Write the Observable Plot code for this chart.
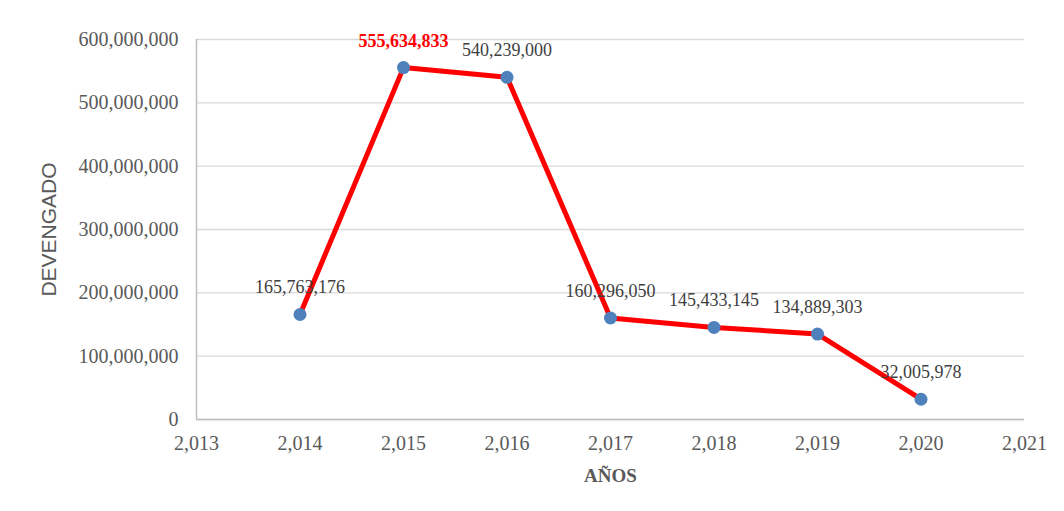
<!DOCTYPE html>
<html>
<head>
<meta charset="utf-8">
<script src="https://cdn.jsdelivr.net/npm/d3@7"></script>
<script src="https://cdn.jsdelivr.net/npm/@observablehq/plot@0.6"></script>
<style>
  html, body { margin: 0; padding: 0; background: #ffffff; }
</style>
</head>
<body>
<div id="chart"></div>
<script>
const years = [2014, 2015, 2016, 2017, 2018, 2019, 2020];
const values = [165763176, 555634833, 540239000, 160296050, 145433145, 134889303, 32005978];
const xTicks = [2013, 2014, 2015, 2016, 2017, 2018, 2019, 2020, 2021];
const yTicks = [0, 100000000, 200000000, 300000000, 400000000, 500000000, 600000000];
const highlightYear = 2015;
const yLabel = "DEVENGADO";
const xLabel = "AÑOS";

const data = years.map((year, i) => ({year, value: values[i]}));
const fmt = d3.format(",");

const chart = Plot.plot({
  width: 1064,
  height: 511,
  marginLeft: 196,
  marginRight: 40,
  marginTop: 39,
  marginBottom: 92,
  style: {fontFamily: "'Liberation Serif', 'Times New Roman', serif", fontSize: "20px", color: "#595959", background: "#ffffff"},
  x: {domain: [2013, 2021], label: null},
  y: {domain: [0, 600000000], label: null},
  marks: [
    Plot.gridY(yTicks, {stroke: "#d9d9d9", strokeOpacity: 1, strokeWidth: 1.3}),
    Plot.ruleX([2013], {stroke: "#bfbfbf", strokeWidth: 1.5}),
    Plot.ruleY([0], {stroke: "#bfbfbf", strokeWidth: 1.5}),
    Plot.axisY(yTicks, {tickSize: 0, tickPadding: 18, tickFormat: fmt, fontSize: 20, fill: "#595959"}),
    Plot.axisX(xTicks, {tickSize: 0, tickPadding: 16, tickFormat: fmt, fontSize: 20, fill: "#595959"}),
    Plot.line(data, {x: "year", y: "value", stroke: "#ff0000", strokeWidth: 5}),
    Plot.dot(data, {x: "year", y: "value", r: 6.5, fill: "#4f81bd", stroke: "none"}),
    Plot.text(data.filter(d => d.year !== highlightYear), {x: "year", y: "value", text: d => fmt(d.value), dy: -27, fontSize: 18, fill: "#404040"}),
    Plot.text(data.filter(d => d.year === highlightYear), {x: "year", y: "value", text: d => fmt(d.value), dy: -26, fontSize: 18, fontWeight: "bold", fill: "#ff0000"}),
    Plot.text([yLabel], {frameAnchor: "left", dx: -147, rotate: -90, textAnchor: "middle", fontSize: 21, fontFamily: "'Liberation Sans', Arial, sans-serif", fill: "#595959"}),
    Plot.text([xLabel], {frameAnchor: "bottom", dy: 62, textAnchor: "middle", fontSize: 19, fontWeight: "bold", fill: "#595959"})
  ]
});
document.getElementById("chart").append(chart);
</script>
</body>
</html>
